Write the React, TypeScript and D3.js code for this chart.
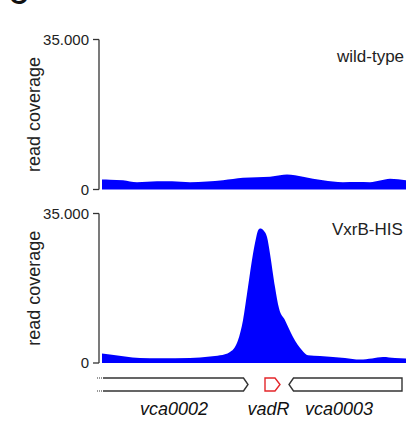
import React from "react";
import * as d3 from "d3";

// genomic position (arbitrary units across the visible window)
const wtPos = [0, 8, 21, 35, 45, 55, 70, 88, 105, 121, 141, 155, 168, 178, 185, 193, 201, 211, 221, 241, 255, 268, 278, 288, 296, 304];
const wtCov = [2330, 2300, 2170, 1700, 1800, 1940, 1900, 1700, 1850, 2170, 2730, 2850, 2960, 3300, 3500, 3300, 2960, 2500, 2170, 1700, 1750, 1700, 2100, 2500, 2400, 2170];

const vxPos = [0, 8, 23, 38, 58, 88, 108, 118, 128, 133, 136, 141, 146, 151, 154, 156, 158, 160, 162, 165, 168, 173, 177, 183, 191, 200, 206, 218, 231, 243, 258, 270, 281, 293, 304];
const vxCov = [2210, 2000, 1530, 1170, 1100, 1170, 1530, 1800, 2600, 3760, 5300, 10000, 17800, 25600, 29200, 31000, 31500, 31400, 30900, 29500, 25600, 17800, 12800, 10000, 6100, 3000, 1800, 1640, 1400, 1170, 800, 1060, 1400, 1170, 1030];

const yTicks = [0, 35000];
const yTickLabels = ["0", "35.000"];
const panelLabels = ["wild-type", "VxrB-HIS"];

const geneNames = ["vca0002", "vadR", "vca0003"];
const geneStart = [1, 163, 187];
const geneEnd = [146, 178, 300];
const geneStrand = [1, 1, -1];
const geneTruncLeft = [true, false, false];
const geneLabelX = [174, 268.5, 339];

const FONT = "'Liberation Sans', Arial, Helvetica, sans-serif";
const BLUE = "#0000ff";
const AXIS = "#333";

export default function App() {
  const x = d3.scaleLinear().domain([0, 304]).range([102, 406]);
  const panels = [
    { pos: wtPos, cov: wtCov, y: d3.scaleLinear().domain([0, 35000]).range([189.5, 39.5]), labelY: 62, labelX: 337 },
    { pos: vxPos, cov: vxCov, y: d3.scaleLinear().domain([0, 35000]).range([363, 213.5]), labelY: 235, labelX: 332 },
  ];
  const axisX = 99;
  const geneTop = 378;
  const geneBot = 391;
  const geneMid = (geneTop + geneBot) / 2;

  return (
    <>
      <style>{`body{margin:0}`}</style>
      <svg width={406} height={427} style={{ display: "block", background: "#fff" }} fontFamily={FONT}>
        <text x={9} y={3.5} fontSize={26} fontWeight="bold" fill="#111">C</text>
        {panels.map((p, i) => {
          const area = d3
            .area<number>()
            .x((_, k) => x(p.pos[k]))
            .y0(p.y(0))
            .y1((d) => p.y(d))
            .curve(d3.curveMonotoneX);
          const [y0, y1] = p.y.range();
          return (
            <g key={i}>
              <path d={area(p.cov) || ""} fill={BLUE} />
              <line x1={axisX} x2={axisX} y1={y0} y2={y1} stroke={AXIS} strokeWidth={1.3} />
              {yTicks.map((t, k) => (
                <g key={k}>
                  <line x1={axisX - 6} x2={axisX} y1={p.y(t)} y2={p.y(t)} stroke={AXIS} strokeWidth={1.3} />
                  <text x={89} y={p.y(t) + 5} fontSize={15} textAnchor="end" fill="#222">
                    {yTickLabels[k]}
                  </text>
                </g>
              ))}
              <text
                transform={`translate(40, ${(y0 + y1) / 2}) rotate(-90)`}
                fontSize={18}
                textAnchor="middle"
                fill="#222"
              >
                read coverage
              </text>
              <text x={p.labelX} y={p.labelY} fontSize={17} fill="#222">
                {panelLabels[i]}
              </text>
            </g>
          );
        })}
        {geneNames.map((g, i) => {
          const xs = x(geneStart[i]);
          const xe = x(geneEnd[i]);
          const tip = g === "vadR" ? 5 : 4.5;
          const col = g === "vadR" ? "#e3262a" : AXIS;
          let d: string;
          if (geneStrand[i] > 0) {
            if (geneTruncLeft[i]) {
              d = `M${xs},${geneTop} L${xe - tip},${geneTop} L${xe},${geneMid} L${xe - tip},${geneBot} L${xs},${geneBot}`;
            } else {
              d = `M${xs},${geneTop} L${xe - tip},${geneTop} L${xe},${geneMid} L${xe - tip},${geneBot} L${xs},${geneBot} Z`;
            }
          } else {
            d = `M${xe},${geneTop} L${xs + tip},${geneTop} L${xs},${geneMid} L${xs + tip},${geneBot} L${xe},${geneBot} Z`;
          }
          return (
            <g key={g}>
              <path d={d} fill="#fff" stroke={col} strokeWidth={1.4} strokeLinejoin="miter" />
              {geneTruncLeft[i] && (
                <>
                  <line x1={xs - 6} x2={xs} y1={geneTop} y2={geneTop} stroke={AXIS} strokeWidth={1.2} strokeDasharray="1 1" />
                  <line x1={xs - 6} x2={xs} y1={geneBot} y2={geneBot} stroke={AXIS} strokeWidth={1.2} strokeDasharray="1 1" />
                </>
              )}
              <text x={geneLabelX[i]} y={415} fontSize={18} fontStyle="italic" textAnchor="middle" fill="#111">
                {g}
              </text>
            </g>
          );
        })}
      </svg>
    </>
  );
}
